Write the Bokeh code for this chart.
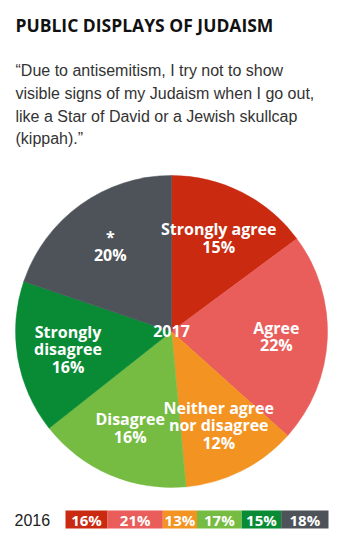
import numpy as np
from bokeh.plotting import figure
from bokeh.models import Range1d, ColumnDataSource
from bokeh.core.properties import value
from bokeh.embed import file_html
from bokeh.resources import INLINE

# ---- data ----
categories = ["Strongly agree", "Agree", "Neither agree\nnor disagree", "Disagree", "Strongly\ndisagree", "*"]
values_2017 = [15, 22, 12, 16, 16, 20]
values_2016 = [16, 21, 13, 17, 15, 18]
colors = ["#C92A10", "#E95D5A", "#F39322", "#76BC43", "#098B36", "#4E535A"]
title = "PUBLIC DISPLAYS OF JUDAISM"
subtitle_lines = [
    "\u201cDue to antisemitism, I try not to show",
    "visible signs of my Judaism when I go out,",
    "like a Star of David or a Jewish skullcap",
    "(kippah).\u201d",
]
year_pie = "2017"
year_bar = "2016"

# ---- layout ----
W, H = 356, 547
def Y(py):
    return H - py

p = figure(width=W, height=H, x_range=Range1d(0, W), y_range=Range1d(0, H),
           output_backend="svg", toolbar_location=None, min_border=0,
           x_axis_location=None, y_axis_location=None)
p.grid.visible = False
p.outline_line_color = None
p.background_fill_color = "white"
p.border_fill_color = "white"

# title
p.text(x=[15], y=[Y(24)], text=[title], text_font=value("Open Sans"),
       text_font_style="bold", text_font_size="17.5px", text_color="#111111",
       text_align="left", text_baseline="middle")
# subtitle
p.text(x=[15] * len(subtitle_lines), y=[Y(b) for b in (70, 93, 116, 138)],
       text=subtitle_lines, text_font=value("Liberation Sans"),
       text_font_size="16px", text_color="#333333",
       text_align="left", text_baseline="middle")

# pie
cx, cy, R = 171, Y(331), 156
v = np.array(values_2017, dtype=float)
frac = v / v.sum()
cum_end = np.cumsum(frac)
cum_start = cum_end - frac
start = np.pi / 2 - 2 * np.pi * cum_end
end = np.pi / 2 - 2 * np.pi * cum_start
pie = ColumnDataSource(dict(start=start, end=end, color=colors))
p.wedge(x=cx, y=cy, radius=R, start_angle="start", end_angle="end",
        fill_color="color", line_color="color", line_width=0.5, source=pie)

mid = np.pi / 2 - 2 * np.pi * (cum_start + frac / 2)
lr = 105
labels = ColumnDataSource(dict(
    x=cx + lr * np.cos(mid), y=cy + lr * np.sin(mid),
    text=[f"{c}\n{val}%" for c, val in zip(categories, values_2017)]))
p.text(x="x", y="y", text="text", source=labels, text_font=value("Open Sans"),
       text_font_style="bold", text_font_size="16px", text_color="white",
       text_align="center", text_baseline="middle", text_line_height=0.8)
p.text(x=[cx], y=[cy + 1], text=[year_pie], text_font=value("Open Sans"),
       text_font_style="bold", text_font_size="16px", text_color="white",
       text_align="center", text_baseline="middle")

# 2016 bar
bx0, bw = 65, 263
b = np.array(values_2016, dtype=float)
bf = b / b.sum()
be = np.cumsum(bf)
bs = be - bf
bar = ColumnDataSource(dict(left=bx0 + bw * bs, right=bx0 + bw * be,
                            xm=bx0 + bw * (bs + bf / 2), color=colors,
                            text=[f"{val}%" for val in values_2016]))
p.quad(left="left", right="right", bottom=Y(528), top=Y(510),
       fill_color="color", line_color=None, source=bar)
p.text(x="xm", y=Y(519.5), text="text", source=bar, text_font=value("Open Sans"),
       text_font_style="bold", text_font_size="15px", text_color="white",
       text_align="center", text_baseline="middle")
p.text(x=[14], y=[Y(519.5)], text=[year_bar], text_font=value("Liberation Sans"),
       text_font_size="16px", text_color="#222222",
       text_align="left", text_baseline="middle")

open("out.html", "w").write(file_html(p, INLINE))
